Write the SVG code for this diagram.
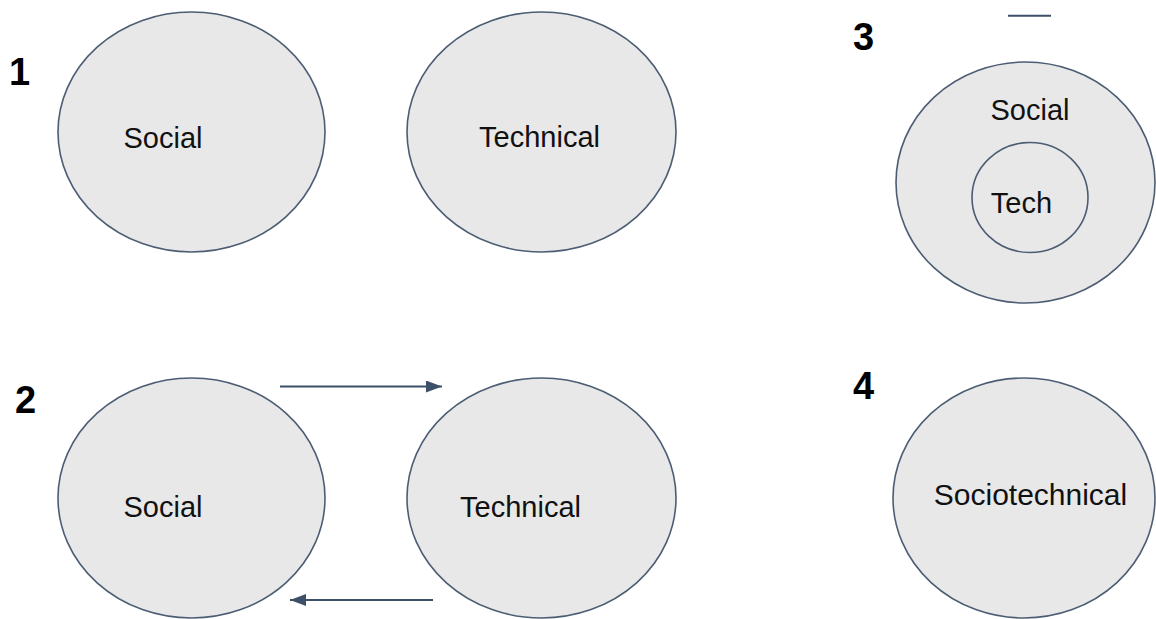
<svg xmlns="http://www.w3.org/2000/svg" width="1156" height="619" viewBox="0 0 1156 619">
<style>
.node{fill:#e8e8e8;stroke:#4c5d73;stroke-width:1.6}
.lbl{font-family:"Liberation Sans",Arial,sans-serif;font-size:29px;fill:#111;text-anchor:middle}
.num{font-family:"Liberation Sans",Arial,sans-serif;font-size:38px;font-weight:bold;fill:#000}
.conn{stroke:#3d5069;stroke-width:2;fill:none}
</style>
<defs>
<marker id="ah" markerWidth="8" markerHeight="6" refX="8" refY="3" orient="auto" markerUnits="strokeWidth">
<path d="M0,0 L8,3 L0,6 Z" fill="#3d5069"/>
</marker>
</defs>
<rect width="1156" height="619" fill="#ffffff"/>
<g id="labels">
<text class="num" x="9" y="85">1</text>
<text class="num" x="15" y="413">2</text>
<text class="num" x="853" y="50">3</text>
<text class="num" x="853" y="399">4</text>
</g>
<g id="n1-social">
<ellipse class="node" cx="191.5" cy="132" rx="133.5" ry="120"/>
<text class="lbl" x="163" y="148">Social</text>
</g>
<g id="n1-technical">
<ellipse class="node" cx="541.5" cy="132" rx="134.5" ry="120"/>
<text class="lbl" x="539.5" y="147">Technical</text>
</g>
<g id="n2-social">
<ellipse class="node" cx="191.5" cy="498" rx="133.5" ry="120"/>
<text class="lbl" x="163" y="517">Social</text>
</g>
<g id="n2-technical">
<ellipse class="node" cx="541.5" cy="498" rx="134.5" ry="120"/>
<text class="lbl" x="520.5" y="517">Technical</text>
</g>
<g id="n3-social">
<ellipse class="node" cx="1025.5" cy="182.5" rx="129.5" ry="120.5"/>
<text class="lbl" x="1030" y="120">Social</text>
</g>
<g id="n3-tech">
<ellipse class="node" cx="1030" cy="197.5" rx="58" ry="55"/>
<text class="lbl" x="1021.5" y="213">Tech</text>
</g>
<g id="n4-sociotechnical">
<ellipse class="node" cx="1024" cy="498" rx="131" ry="120"/>
<text class="lbl" x="1030.5" y="505" style="font-size:30px">Sociotechnical</text>
</g>
<g id="connectors">
<line class="conn" x1="280" y1="386.5" x2="442" y2="386.5" marker-end="url(#ah)"/>
<line class="conn" x1="433" y1="600" x2="290" y2="600" marker-end="url(#ah)"/>
<line class="conn" x1="1008" y1="15.7" x2="1051" y2="15.7"/>
</g>
</svg>
